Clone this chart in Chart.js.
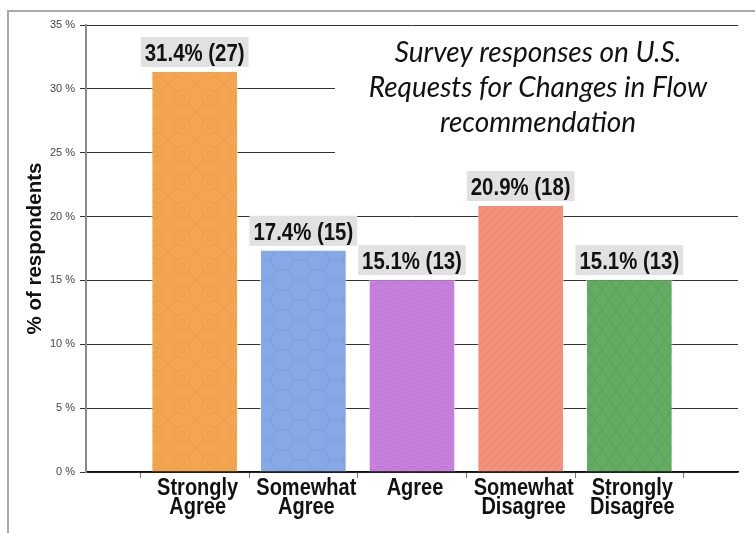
<!DOCTYPE html>
<html>
<head>
<meta charset="utf-8">
<script src="https://cdn.jsdelivr.net/npm/chart.js@4.4.1/dist/chart.umd.min.js"></script>
<style>
  html, body { margin: 0; padding: 0; background: #fff; }
  #wrap { position: relative; width: 755px; height: 533px; overflow: hidden; }
  #frame { position: absolute; left: 7px; top: 10px; width: 800px; height: 600px;
           border-top: 2px solid #a9a9a9; border-left: 2px solid #a9a9a9; }
  #c { position: absolute; left: 0; top: 0; }
</style>
</head>
<body>
<div id="wrap">
  <div id="frame"></div>
  <canvas id="c" width="755" height="533"></canvas>
</div>
<script>
const categories = [["Strongly", "Agree"], ["Somewhat", "Agree"], "Agree", ["Somewhat", "Disagree"], ["Strongly", "Disagree"]];
const percents   = [31.4, 17.4, 15.1, 20.9, 15.1];
const counts     = [27, 15, 13, 18, 13];
const yMax  = 35;
const yStep = 5;
const titleLines = ["Survey responses on U.S.", "Requests for Changes in Flow", "recommendation"];
const yTitle = "% of respondents";

// textured fills for the bars
function makePattern(base, ink, kind) {
  const t = document.createElement("canvas");
  const sizes = { rings: [28, 28], hex: [36, 20], waves: [16, 8], chevron: [8, 8], diamonds: [14, 20] };
  const [w, h] = sizes[kind];
  t.width = w; t.height = h;
  const g = t.getContext("2d");
  g.fillStyle = base; g.fillRect(0, 0, w, h);
  g.strokeStyle = ink; g.lineWidth = 1.5;
  g.beginPath();
  if (kind === "rings") {
    g.arc(14, 14, 8, 0, Math.PI * 2);
    g.moveTo(17, 14); g.arc(14, 14, 3, 0, Math.PI * 2);
    g.moveTo(0, 0); g.lineTo(6, 6); g.moveTo(28, 0); g.lineTo(22, 6);
    g.moveTo(0, 28); g.lineTo(6, 22); g.moveTo(28, 28); g.lineTo(22, 22);
  } else if (kind === "hex") {
    g.moveTo(0, 10); g.lineTo(6, 0); g.lineTo(18, 0); g.lineTo(24, 10); g.lineTo(18, 20); g.lineTo(6, 20); g.closePath();
    g.moveTo(24, 10); g.lineTo(36, 10);
  } else if (kind === "waves") {
    g.moveTo(0, 4);
    for (let x = 0; x <= 16; x++) g.lineTo(x, 4 + 2 * Math.sin(x / 16 * Math.PI * 2));
  } else if (kind === "chevron") {
    g.moveTo(0, 8); g.lineTo(8, 0); g.moveTo(-4, 4); g.lineTo(4, -4); g.moveTo(4, 12); g.lineTo(12, 4);
  } else {
    g.moveTo(7, 0); g.lineTo(14, 10); g.lineTo(7, 20); g.lineTo(0, 10); g.closePath();
  }
  g.stroke();
  return g.createPattern(t, "repeat");
}

const fills = [
  makePattern("#f4a550", "rgba(200,110,40,0.09)", "rings"),
  makePattern("#86a8e6", "rgba(60,90,170,0.07)", "hex"),
  makePattern("#c680dc", "rgba(120,50,150,0.07)", "waves"),
  makePattern("#f4917a", "rgba(190,80,60,0.08)", "chevron"),
  makePattern("#63ac62", "rgba(30,100,40,0.08)", "diamonds"),
];

// empty slots at both ends so the bars sit one step in from the axes
const labels = ["", ...categories, ""];
const values = [null, ...percents, null];

const BOLD = 'bold 24px "Liberation Sans", Arial, sans-serif';
const SQUEEZE = 0.85;   // narrow the bold labels horizontally

function narrowText(ctx, txt, x, y, sx) {
  ctx.save();
  ctx.translate(x, y);
  ctx.scale(sx, 1);
  ctx.fillText(txt, 0, 0);
  ctx.restore();
}

const titleBox = {
  id: "titleBox",
  beforeDatasetsDraw(chart) {
    const ctx = chart.ctx;
    ctx.save();
    ctx.fillStyle = "#fff";
    ctx.fillRect(335, 32, chart.chartArea.right - 335 + 2, 133);
    ctx.fillStyle = "#111";
    ctx.font = "italic 28px Lato";
    ctx.textAlign = "center";
    ctx.textBaseline = "alphabetic";
    titleLines.forEach((l, i) => ctx.fillText(l, 538, 62 + i * 35));
    ctx.restore();
  }
};

const valueLabels = {
  id: "valueLabels",
  afterDatasetsDraw(chart) {
    const ctx = chart.ctx;
    const meta = chart.getDatasetMeta(0);
    ctx.save();
    ctx.font = BOLD;
    ctx.textAlign = "center";
    ctx.textBaseline = "alphabetic";
    percents.forEach((p, i) => {
      const bar = meta.data[i + 1];
      const txt = p.toFixed(1) + "% (" + counts[i] + ")";
      const w = ctx.measureText(txt).width * SQUEEZE + 8;
      const bottom = bar.y - 4;
      ctx.fillStyle = "#e1e1e1";
      ctx.fillRect(bar.x - w / 2, bottom - 30, w, 30);
      ctx.fillStyle = "#111";
      narrowText(ctx, txt, bar.x, bottom - 6, SQUEEZE);
    });
    ctx.restore();
  }
};

// category names under the axis, two lines each, squeezed like the value labels
const categoryLabels = {
  id: "categoryLabels",
  afterDraw(chart) {
    const ctx = chart.ctx;
    const xs = chart.scales.x;
    ctx.save();
    ctx.font = 'bold 23px "Liberation Sans", Arial, sans-serif';
    ctx.fillStyle = "#111";
    ctx.textAlign = "center";
    ctx.textBaseline = "alphabetic";
    labels.forEach((lab, i) => {
      if (!lab) return;
      const lines = Array.isArray(lab) ? lab : [lab];
      const x = xs.getPixelForTick(i) + 3;
      lines.forEach((ln, j) => narrowText(ctx, ln, x, xs.top + 23 + j * 18.5, 0.87));
    });
    ctx.restore();
  }
};

new Chart(document.getElementById("c"), {
  type: "bar",
  data: {
    labels: labels,
    datasets: [{
      data: values,
      backgroundColor: [null, ...fills, null],
      borderColor: "rgba(255,255,255,0.6)",
      borderWidth: 1,
      categoryPercentage: 1,
      barPercentage: 0.797,
    }]
  },
  options: {
    responsive: false,
    animation: false,
    layout: { padding: { top: 25, right: 17, left: 0, bottom: 0 } },
    plugins: { legend: { display: false }, tooltip: { enabled: false } },
    scales: {
      x: {
        offset: false,
        grid: { drawOnChartArea: false, drawTicks: true, tickLength: 6, color: "#777" },
        border: { color: "#111", width: 1.5 },
        ticks: { display: false, autoSkip: false },
        afterFit(s) { s.height = 61; }
      },
      y: {
        min: 0, max: yMax,
        grid: { color: "#333", lineWidth: 1, tickLength: 6 },
        border: { color: "#8a8a8a", width: 2 },
        ticks: {
          stepSize: yStep, padding: 5, color: "#444",
          font: { family: '"Liberation Sans"', size: 11 },
          callback: (v) => v + " %"
        },
        title: {
          display: true, text: yTitle, color: "#111",
          font: { family: '"Liberation Sans"', size: 20.5, weight: "bold" },
          padding: { top: 23, bottom: 0 }
        },
        afterFit(s) { s.width = 86; }
      }
    }
  },
  plugins: [titleBox, valueLabels, categoryLabels]
});
</script>
</body>
</html>
